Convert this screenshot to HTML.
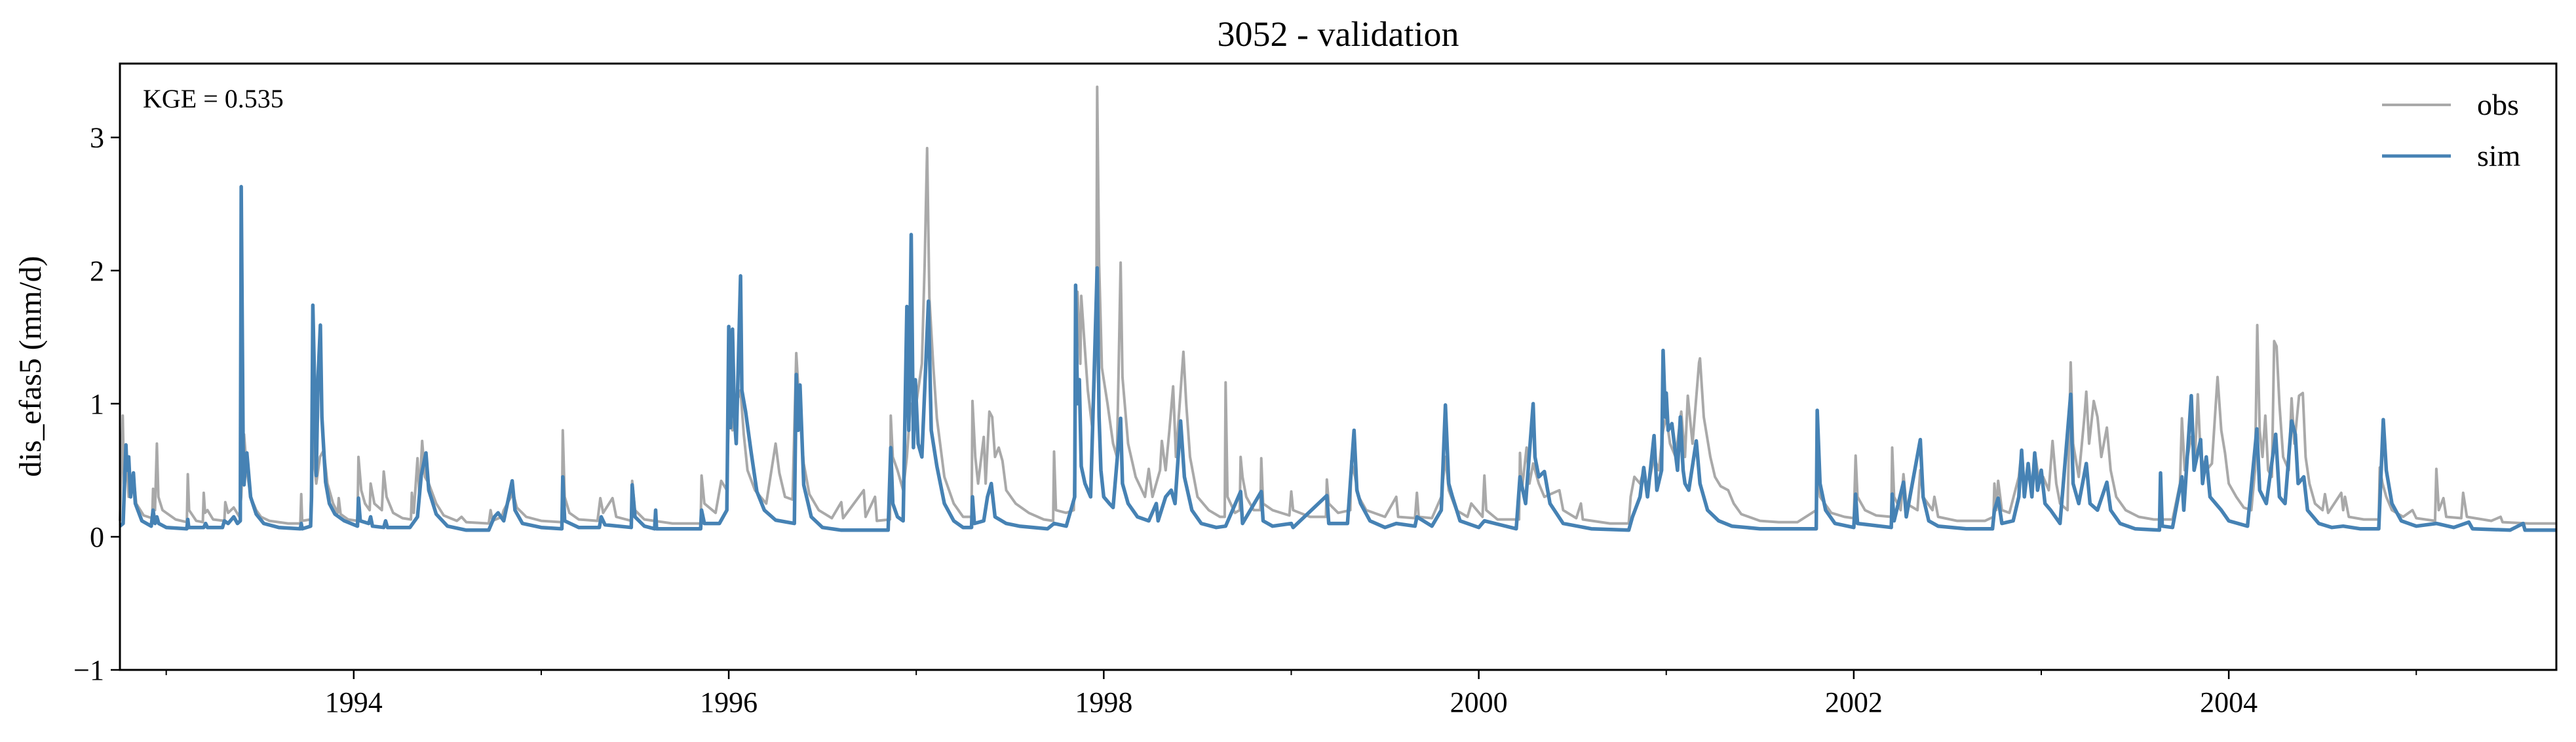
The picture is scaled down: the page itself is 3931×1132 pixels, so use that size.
<!DOCTYPE html>
<html><head><meta charset="utf-8"><style>
html,body{margin:0;padding:0;background:#fff}
svg{display:block}
text{font-family:"Liberation Serif",serif;fill:#000}
</style></head><body>
<svg id="chart" width="3931" height="1132" viewBox="0 0 3931 1132" xmlns="http://www.w3.org/2000/svg">
<g id="plot"></g>
<text x="2042" y="70" font-size="54" text-anchor="middle">3052 - validation</text>
<text transform="translate(62,559) rotate(-90)" font-size="48" text-anchor="middle">dis_efas5 (mm/d)</text>
<text x="218" y="164" font-size="40">KGE = 0.535</text>
<g>
<line x1="3635" y1="160" x2="3740" y2="160" stroke="#a9a9a9" stroke-width="4"/>
<text x="3780" y="175" font-size="46">obs</text>
<line x1="3635" y1="238" x2="3740" y2="238" stroke="#4682b4" stroke-width="5"/>
<text x="3780" y="253" font-size="46">sim</text>
</g>
</svg>
<script>
const yTicks=[-1,0,1,2,3];
const yTickLabels=["\u22121","0","1","2","3"];
const xMajorYears=[1994,1996,1998,2000,2002,2004];
const xMinorYears=[1993,1995,1997,1999,2001,2003,2005];
const obsPts=[[1992.753,0.12],[1992.768,0.91],[1992.775,0.4],[1992.79,0.55],[1992.80,0.3],[1992.83,0.4],[1992.84,0.25],[1992.88,0.16],[1992.925,0.14],[1992.93,0.36],[1992.94,0.2],[1992.95,0.7],[1992.958,0.3],[1992.98,0.2],[1993.05,0.13],[1993.11,0.11],[1993.115,0.47],[1993.122,0.2],[1993.16,0.12],[1993.195,0.11],[1993.20,0.33],[1993.207,0.18],[1993.22,0.2],[1993.25,0.13],[1993.31,0.12],[1993.315,0.26],[1993.33,0.18],[1993.36,0.22],[1993.39,0.15],[1993.40,0.3],[1993.415,0.77],[1993.43,0.5],[1993.45,0.3],[1993.48,0.2],[1993.505,0.15],[1993.55,0.12],[1993.65,0.1],[1993.715,0.1],[1993.72,0.32],[1993.725,0.12],[1993.77,0.13],[1993.78,0.9],[1993.79,0.55],[1993.80,0.4],[1993.82,0.6],[1993.84,0.65],[1993.86,0.4],[1993.89,0.25],[1993.915,0.18],[1993.92,0.29],[1993.93,0.17],[1993.97,0.13],[1994.02,0.12],[1994.025,0.6],[1994.04,0.35],[1994.06,0.25],[1994.085,0.2],[1994.09,0.4],[1994.11,0.25],[1994.15,0.2],[1994.16,0.49],[1994.175,0.3],[1994.21,0.18],[1994.26,0.14],[1994.305,0.13],[1994.31,0.33],[1994.32,0.18],[1994.34,0.59],[1994.35,0.3],[1994.365,0.72],[1994.38,0.45],[1994.40,0.4],[1994.44,0.25],[1994.48,0.16],[1994.55,0.12],[1994.575,0.15],[1994.6,0.11],[1994.72,0.1],[1994.73,0.2],[1994.74,0.12],[1994.79,0.15],[1994.80,0.2],[1994.85,0.33],[1994.87,0.22],[1994.92,0.15],[1995.0,0.12],[1995.11,0.11],[1995.115,0.8],[1995.125,0.3],[1995.15,0.18],[1995.2,0.13],[1995.30,0.12],[1995.315,0.29],[1995.33,0.18],[1995.38,0.29],[1995.40,0.15],[1995.48,0.12],[1995.485,0.42],[1995.50,0.2],[1995.55,0.13],[1995.7,0.1],[1995.85,0.1],[1995.855,0.46],[1995.87,0.25],[1995.93,0.18],[1995.96,0.42],[1995.99,0.35],[1996.0,0.9],[1996.02,0.8],[1996.04,1.0],[1996.063,1.1],[1996.08,0.77],[1996.1,0.5],[1996.14,0.35],[1996.2,0.25],[1996.25,0.7],[1996.27,0.48],[1996.30,0.3],[1996.34,0.28],[1996.36,1.38],[1996.38,0.9],[1996.40,0.55],[1996.43,0.32],[1996.48,0.2],[1996.55,0.14],[1996.60,0.26],[1996.61,0.14],[1996.72,0.35],[1996.73,0.15],[1996.78,0.3],[1996.79,0.12],[1996.86,0.13],[1996.864,0.91],[1996.875,0.6],[1996.90,0.5],[1996.93,0.35],[1996.95,0.6],[1996.97,1.0],[1996.99,0.9],[1997.01,1.1],[1997.03,1.3],[1997.045,2.06],[1997.058,2.92],[1997.07,1.8],[1997.09,1.3],[1997.11,0.89],[1997.15,0.45],[1997.2,0.25],[1997.25,0.15],[1997.295,0.15],[1997.30,1.02],[1997.315,0.6],[1997.33,0.4],[1997.36,0.75],[1997.37,0.4],[1997.39,0.94],[1997.405,0.9],[1997.42,0.6],[1997.44,0.67],[1997.46,0.57],[1997.48,0.35],[1997.53,0.25],[1997.60,0.18],[1997.68,0.13],[1997.73,0.12],[1997.735,0.64],[1997.745,0.2],[1997.80,0.18],[1997.84,0.2],[1997.86,1.84],[1997.875,1.3],[1997.88,1.81],[1997.90,1.4],[1997.915,1.1],[1997.94,0.8],[1997.96,1.5],[1997.965,3.38],[1997.975,2.06],[1997.99,1.27],[1998.02,1.0],[1998.05,0.7],[1998.07,0.6],[1998.08,1.3],[1998.09,2.06],[1998.10,1.2],[1998.13,0.7],[1998.17,0.45],[1998.22,0.3],[1998.24,0.51],[1998.26,0.3],[1998.30,0.5],[1998.31,0.72],[1998.33,0.5],[1998.35,0.8],[1998.37,1.13],[1998.385,0.6],[1998.40,0.9],[1998.425,1.39],[1998.44,1.0],[1998.46,0.6],[1998.50,0.3],[1998.56,0.2],[1998.62,0.15],[1998.645,0.15],[1998.65,1.16],[1998.66,0.3],[1998.70,0.18],[1998.725,0.2],[1998.73,0.6],[1998.74,0.45],[1998.76,0.3],[1998.80,0.2],[1998.835,0.2],[1998.84,0.59],[1998.85,0.25],[1998.90,0.2],[1998.99,0.16],[1999.0,0.34],[1999.01,0.2],[1999.1,0.15],[1999.185,0.15],[1999.19,0.43],[1999.2,0.25],[1999.25,0.18],[1999.315,0.2],[1999.32,0.57],[1999.34,0.45],[1999.36,0.3],[1999.4,0.2],[1999.5,0.15],[1999.56,0.3],[1999.57,0.15],[1999.66,0.14],[1999.67,0.33],[1999.68,0.15],[1999.75,0.14],[1999.80,0.3],[1999.822,0.6],[1999.84,0.35],[1999.88,0.2],[1999.94,0.15],[1999.96,0.25],[2000.02,0.15],[2000.03,0.46],[2000.04,0.2],[2000.1,0.13],[2000.215,0.13],[2000.22,0.63],[2000.23,0.35],[2000.255,0.67],[2000.27,0.4],[2000.29,0.55],[2000.32,0.4],[2000.35,0.3],[2000.43,0.35],[2000.45,0.2],[2000.52,0.14],[2000.545,0.25],[2000.555,0.13],[2000.7,0.1],[2000.80,0.1],[2000.81,0.3],[2000.83,0.45],[2000.86,0.4],[2000.88,0.5],[2000.90,0.35],[2000.935,0.6],[2000.96,0.5],[2000.983,0.8],[2001.0,0.9],[2001.02,0.7],[2001.05,0.6],[2001.08,0.94],[2001.10,0.6],[2001.115,1.06],[2001.14,0.7],[2001.175,1.31],[2001.18,1.34],[2001.20,0.9],[2001.235,0.6],[2001.26,0.45],[2001.29,0.38],[2001.33,0.35],[2001.36,0.25],[2001.4,0.17],[2001.5,0.12],[2001.6,0.11],[2001.70,0.11],[2001.80,0.2],[2001.805,0.53],[2001.82,0.3],[2001.88,0.18],[2001.95,0.15],[2002.0,0.14],[2002.01,0.61],[2002.02,0.3],[2002.06,0.2],[2002.12,0.16],[2002.20,0.15],[2002.205,0.67],[2002.215,0.3],[2002.25,0.2],[2002.265,0.47],[2002.28,0.25],[2002.34,0.2],[2002.355,0.5],[2002.37,0.3],[2002.42,0.2],[2002.43,0.3],[2002.45,0.15],[2002.55,0.12],[2002.70,0.12],[2002.745,0.15],[2002.75,0.4],[2002.76,0.2],[2002.77,0.42],[2002.79,0.2],[2002.83,0.18],[2002.88,0.45],[2002.895,0.65],[2002.91,0.4],[2002.93,0.5],[2002.95,0.35],[2002.97,0.6],[2002.99,0.4],[2003.01,0.45],[2003.04,0.35],[2003.06,0.72],[2003.08,0.4],[2003.1,0.25],[2003.14,0.2],[2003.157,1.31],[2003.17,0.7],[2003.20,0.45],[2003.23,0.9],[2003.24,1.09],[2003.255,0.7],[2003.28,1.02],[2003.30,0.9],[2003.32,0.6],[2003.35,0.82],[2003.37,0.5],[2003.40,0.3],[2003.45,0.2],[2003.52,0.15],[2003.60,0.13],[2003.70,0.13],[2003.74,0.4],[2003.75,0.89],[2003.765,0.5],[2003.78,0.6],[2003.80,0.75],[2003.82,0.6],[2003.835,1.07],[2003.85,0.6],[2003.88,0.5],[2003.91,0.55],[2003.94,1.2],[2003.96,0.8],[2003.98,0.63],[2004.0,0.4],[2004.04,0.3],[2004.08,0.22],[2004.12,0.2],[2004.14,0.5],[2004.152,1.59],[2004.165,0.8],[2004.18,0.6],[2004.195,0.91],[2004.21,0.5],[2004.23,0.45],[2004.242,1.47],[2004.255,1.43],[2004.27,1.0],[2004.29,0.6],[2004.32,0.5],[2004.335,1.04],[2004.35,0.7],[2004.375,1.06],[2004.395,1.08],[2004.41,0.6],[2004.43,0.4],[2004.46,0.25],[2004.50,0.2],[2004.513,0.32],[2004.53,0.18],[2004.60,0.33],[2004.61,0.2],[2004.62,0.3],[2004.64,0.15],[2004.72,0.13],[2004.80,0.13],[2004.805,0.52],[2004.82,0.4],[2004.84,0.3],[2004.87,0.2],[2004.93,0.15],[2004.98,0.2],[2005.0,0.14],[2005.10,0.12],[2005.107,0.51],[2005.12,0.2],[2005.145,0.29],[2005.16,0.15],[2005.24,0.14],[2005.25,0.33],[2005.27,0.15],[2005.40,0.12],[2005.45,0.15],[2005.46,0.11],[2005.60,0.1],[2005.75,0.1]];
const simPts=[[1992.753,0.08],[1992.77,0.1],[1992.785,0.69],[1992.79,0.5],[1992.80,0.6],[1992.81,0.3],[1992.825,0.48],[1992.835,0.25],[1992.87,0.12],[1992.92,0.08],[1992.93,0.2],[1992.94,0.1],[1992.95,0.15],[1992.96,0.1],[1993.0,0.07],[1993.11,0.06],[1993.115,0.13],[1993.12,0.07],[1993.2,0.07],[1993.21,0.1],[1993.22,0.07],[1993.30,0.07],[1993.31,0.12],[1993.33,0.1],[1993.36,0.15],[1993.38,0.1],[1993.395,0.12],[1993.40,2.63],[1993.41,0.7],[1993.415,0.39],[1993.425,0.6],[1993.43,0.63],[1993.45,0.3],[1993.48,0.17],[1993.52,0.1],[1993.6,0.07],[1993.715,0.06],[1993.72,0.1],[1993.725,0.06],[1993.77,0.08],[1993.775,0.3],[1993.782,1.74],[1993.79,1.22],[1993.80,0.46],[1993.81,1.2],[1993.822,1.59],[1993.83,0.9],[1993.85,0.41],[1993.87,0.25],[1993.9,0.17],[1993.95,0.12],[1994.02,0.08],[1994.025,0.29],[1994.035,0.12],[1994.08,0.1],[1994.09,0.15],[1994.1,0.08],[1994.16,0.07],[1994.17,0.12],[1994.18,0.07],[1994.30,0.07],[1994.34,0.15],[1994.36,0.46],[1994.385,0.63],[1994.40,0.35],[1994.44,0.17],[1994.5,0.08],[1994.6,0.05],[1994.72,0.05],[1994.75,0.15],[1994.77,0.18],[1994.80,0.12],[1994.845,0.42],[1994.86,0.2],[1994.9,0.1],[1995.0,0.07],[1995.11,0.06],[1995.115,0.45],[1995.125,0.12],[1995.2,0.07],[1995.31,0.07],[1995.32,0.15],[1995.34,0.09],[1995.48,0.07],[1995.485,0.39],[1995.50,0.15],[1995.55,0.08],[1995.605,0.06],[1995.61,0.2],[1995.615,0.06],[1995.7,0.06],[1995.85,0.06],[1995.855,0.2],[1995.87,0.1],[1995.95,0.1],[1995.99,0.2],[1996.0,1.58],[1996.01,0.82],[1996.02,1.56],[1996.03,0.9],[1996.04,0.7],[1996.063,1.96],[1996.07,1.1],[1996.09,0.94],[1996.12,0.63],[1996.15,0.34],[1996.19,0.2],[1996.25,0.125],[1996.35,0.1],[1996.36,1.22],[1996.37,0.8],[1996.38,1.14],[1996.40,0.39],[1996.44,0.15],[1996.5,0.07],[1996.6,0.05],[1996.85,0.05],[1996.864,0.67],[1996.875,0.25],[1996.90,0.15],[1996.93,0.12],[1996.95,1.73],[1996.96,0.8],[1996.973,2.27],[1996.985,0.67],[1996.995,1.18],[1997.01,0.7],[1997.03,0.6],[1997.065,1.77],[1997.08,0.8],[1997.11,0.53],[1997.15,0.25],[1997.2,0.12],[1997.25,0.07],[1997.295,0.07],[1997.30,0.3],[1997.31,0.1],[1997.36,0.12],[1997.38,0.3],[1997.40,0.4],[1997.42,0.15],[1997.48,0.1],[1997.55,0.08],[1997.7,0.06],[1997.735,0.1],[1997.80,0.08],[1997.845,0.3],[1997.85,1.89],[1997.86,1.0],[1997.87,1.18],[1997.88,0.53],[1997.90,0.4],[1997.93,0.3],[1997.965,2.02],[1997.975,0.9],[1997.985,0.5],[1998.0,0.3],[1998.03,0.25],[1998.05,0.22],[1998.09,0.89],[1998.10,0.4],[1998.13,0.25],[1998.18,0.15],[1998.24,0.12],[1998.28,0.25],[1998.29,0.12],[1998.33,0.3],[1998.36,0.35],[1998.38,0.25],[1998.41,0.87],[1998.43,0.45],[1998.47,0.2],[1998.52,0.1],[1998.6,0.07],[1998.65,0.08],[1998.73,0.34],[1998.74,0.1],[1998.84,0.34],[1998.85,0.12],[1998.9,0.08],[1999.0,0.1],[1999.01,0.07],[1999.19,0.31],[1999.2,0.1],[1999.3,0.1],[1999.335,0.8],[1999.35,0.35],[1999.37,0.25],[1999.42,0.12],[1999.5,0.07],[1999.56,0.1],[1999.66,0.08],[1999.67,0.15],[1999.75,0.08],[1999.80,0.2],[1999.822,0.99],[1999.84,0.4],[1999.86,0.3],[1999.9,0.12],[2000.0,0.07],[2000.03,0.12],[2000.2,0.06],[2000.22,0.45],[2000.25,0.25],[2000.29,1.0],[2000.30,0.6],[2000.32,0.45],[2000.35,0.49],[2000.38,0.25],[2000.45,0.1],[2000.6,0.06],[2000.8,0.05],[2000.82,0.15],[2000.86,0.3],[2000.88,0.52],[2000.90,0.3],[2000.935,0.76],[2000.95,0.35],[2000.975,0.5],[2000.983,1.4],[2000.995,0.9],[2001.0,1.08],[2001.01,0.8],[2001.03,0.85],[2001.06,0.5],[2001.075,0.9],[2001.09,0.5],[2001.1,0.4],[2001.12,0.35],[2001.16,0.72],[2001.18,0.4],[2001.22,0.2],[2001.28,0.12],[2001.35,0.08],[2001.5,0.06],[2001.8,0.06],[2001.805,0.95],[2001.82,0.4],[2001.85,0.2],[2001.9,0.1],[2002.0,0.07],[2002.01,0.32],[2002.02,0.1],[2002.2,0.07],[2002.205,0.32],[2002.215,0.12],[2002.265,0.41],[2002.28,0.15],[2002.355,0.73],[2002.37,0.3],[2002.40,0.12],[2002.45,0.08],[2002.6,0.06],[2002.74,0.06],[2002.75,0.2],[2002.77,0.29],[2002.79,0.1],[2002.85,0.12],[2002.88,0.3],[2002.895,0.65],[2002.91,0.3],[2002.93,0.55],[2002.95,0.3],[2002.965,0.63],[2002.98,0.35],[2003.0,0.5],[2003.02,0.25],[2003.05,0.2],[2003.1,0.1],[2003.157,1.07],[2003.17,0.4],[2003.20,0.25],[2003.24,0.55],[2003.26,0.25],[2003.30,0.2],[2003.35,0.41],[2003.37,0.2],[2003.42,0.1],[2003.5,0.06],[2003.63,0.05],[2003.636,0.48],[2003.645,0.08],[2003.7,0.07],[2003.75,0.45],[2003.76,0.2],[2003.80,1.06],[2003.815,0.5],[2003.83,0.6],[2003.85,0.73],[2003.86,0.4],[2003.88,0.6],[2003.90,0.3],[2003.93,0.25],[2003.96,0.2],[2004.0,0.12],[2004.1,0.08],[2004.15,0.81],[2004.165,0.35],[2004.2,0.25],[2004.25,0.77],[2004.27,0.3],[2004.30,0.25],[2004.335,0.87],[2004.355,0.77],[2004.37,0.4],[2004.40,0.45],[2004.42,0.2],[2004.48,0.1],[2004.55,0.07],[2004.61,0.08],[2004.7,0.06],[2004.80,0.06],[2004.81,0.4],[2004.824,0.88],[2004.84,0.5],[2004.87,0.25],[2004.92,0.12],[2005.0,0.08],[2005.107,0.1],[2005.2,0.07],[2005.28,0.11],[2005.3,0.06],[2005.5,0.05],[2005.57,0.1],[2005.58,0.05],[2005.75,0.05]];

const L=183,R=3901,T=97,B=1022;
const xMin=1992.753,xMax=2005.747,yMin=-1,yMax=3.555;
function xs(t){return L+(t-xMin)/(xMax-xMin)*(R-L);}
function ys(v){return B-(v-yMin)/(yMax-yMin)*(B-T);}
const NS="http://www.w3.org/2000/svg";
const g=document.getElementById('plot');
function mk(tag,attrs){const e=document.createElementNS(NS,tag);for(const k in attrs)e.setAttribute(k,attrs[k]);g.appendChild(e);return e;}
function series(pts,color,w,name){
  const d=pts.map((p,i)=>(i?'L':'M')+xs(p[0]).toFixed(1)+' '+ys(p[1]).toFixed(1)).join(' ');
  const p=mk('path',{d:d,fill:'none',stroke:color,'stroke-width':w,'stroke-linejoin':'round'});
  
  
}
series(obsPts,'#a9a9a9',4,'obs-line');
series(simPts,'#4682b4',5.5,'sim-line');
const frame=mk('rect',{x:L,y:T,width:R-L,height:B-T,fill:'none',stroke:'#000','stroke-width':3});


yTicks.forEach((v,i)=>{
  const y=ys(v);
  const tk=mk('line',{x1:L-14,y1:y,x2:L,y2:y,stroke:'#000','stroke-width':2.5});
  
  
  const tx=mk('text',{x:L-24,y:y+15,'font-size':44,'text-anchor':'end'});
  tx.textContent=yTickLabels[i];
  
  
});
xMajorYears.forEach(yr=>{
  const x=xs(yr);
  const tk=mk('line',{x1:x,y1:B,x2:x,y2:B+14,stroke:'#000','stroke-width':2.5});
  
  
  const tx=mk('text',{x:x,y:B+64,'font-size':44,'text-anchor':'middle'});
  tx.textContent=String(yr);
  
  
});
xMinorYears.forEach(yr=>{
  const x=xs(yr);
  const tk=mk('line',{x1:x,y1:B,x2:x,y2:B+8,stroke:'#000','stroke-width':2});
  
  
});
</script>
</body></html>
